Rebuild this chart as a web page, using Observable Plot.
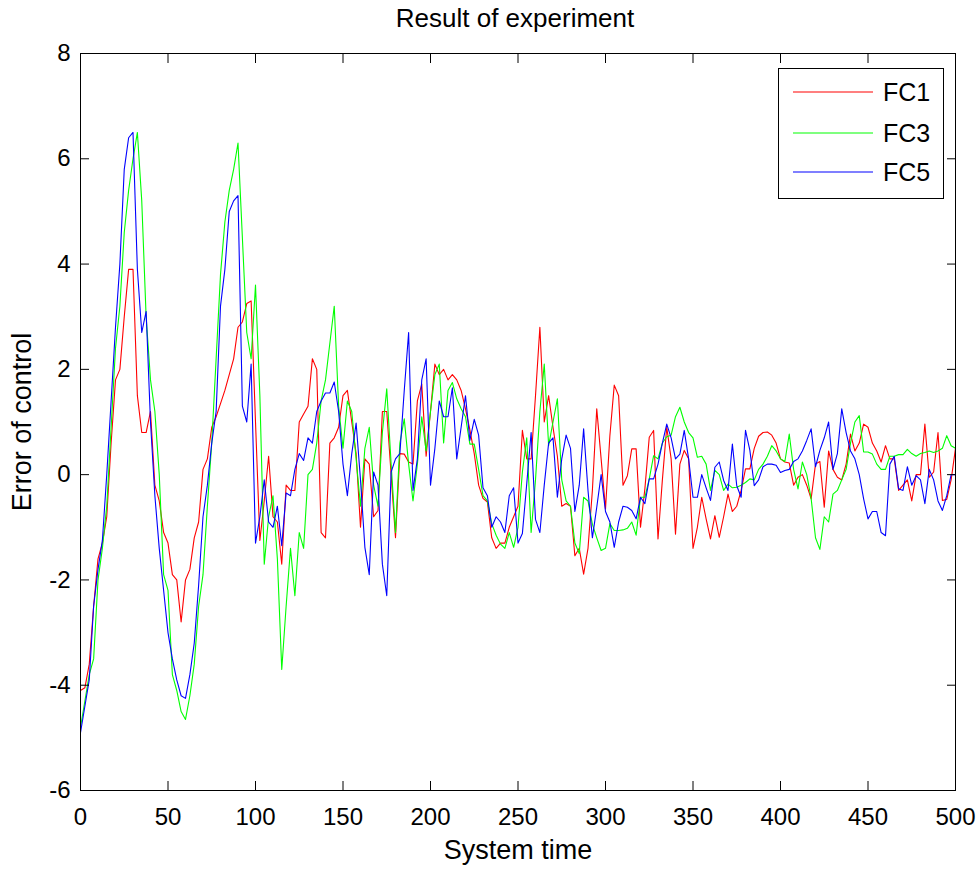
<!DOCTYPE html>
<html><head><meta charset="utf-8">
<script src="https://cdn.jsdelivr.net/npm/d3@7"></script>
<script src="https://cdn.jsdelivr.net/npm/@observablehq/plot@0.6"></script>
<style>
body{margin:0;background:#fff;font-family:"Liberation Sans",Arial,Helvetica,sans-serif;}
#wrap{position:relative;width:980px;height:870px;}
#title{height:40px;line-height:36px;text-align:center;font-size:26px;padding-left:50px;color:#000;}
#legend{position:absolute;left:778px;top:68px;}
</style></head>
<body><div id="wrap"><div id="title"></div><div id="chart"></div><div id="legend"></div></div>
<script>
const titleText = "Result of experiment";
const xLabel = "System time";
const yLabel = "Error of control";
const seriesNames = ["FC1", "FC3", "FC5"];
const seriesColors = ["#ff0000", "#00ff00", "#0000ff"];
const xTicks = [0, 50, 100, 150, 200, 250, 300, 350, 400, 450, 500];
const yTicks = [-6, -4, -2, 0, 2, 4, 6, 8];

const time = [
0,2.5,5,7.5,10,12.5,15,17.5,20,22.5,25,27.5,30,32.5,35,37.5,40,42.5,45,47.5,
50,52.5,55,57.5,60,62.5,65,67.5,70,72.5,75,77.5,80,82.5,85,87.5,90,92.5,95,97.5,
100,102.5,105,107.5,110,112.5,115,117.5,120,122.5,125,127.5,130,132.5,135,137.5,140,142.5,145,147.5,
150,152.5,155,157.5,160,162.5,165,167.5,170,172.5,175,177.5,180,182.5,185,187.5,190,192.5,195,197.5,
200,202.5,205,207.5,210,212.5,215,217.5,220,222.5,225,227.5,230,232.5,235,237.5,240,242.5,245,247.5,
250,252.5,255,257.5,260,262.5,265,267.5,270,272.5,275,277.5,280,282.5,285,287.5,290,292.5,295,297.5,
300,302.5,305,307.5,310,312.5,315,317.5,320,322.5,325,327.5,330,332.5,335,337.5,340,342.5,345,347.5,
350,352.5,355,357.5,360,362.5,365,367.5,370,372.5,375,377.5,380,382.5,385,387.5,390,392.5,395,397.5,
400,402.5,405,407.5,410,412.5,415,417.5,420,422.5,425,427.5,430,432.5,435,437.5,440,442.5,445,447.5,
450,452.5,455,457.5,460,462.5,465,467.5,470,472.5,475,477.5,480,482.5,485,487.5,490,492.5,495,497.5,
500];

const fc1 = [
-4.1,-4.05,-3.6,-2.5,-1.6,-1.3,-0.8,0.6,1.8,2.0,3.0,3.9,3.9,1.5,0.8,0.8,1.2,-0.2,-0.5,-1.1,-1.3,
-1.9,-2.0,-2.8,-2.0,-1.8,-1.2,-0.9,0.1,0.3,0.9,1.1,1.35,1.6,1.9,2.2,2.8,2.9,3.25,3.3,1.0,
-1.25,-0.5,0.35,-0.8,-0.9,-1.7,-0.2,-0.3,-0.3,1.0,1.15,1.3,2.2,2.0,-1.1,-1.2,0.6,0.7,0.9,1.5,
1.6,1.0,0.4,-1.0,0.3,0.2,-0.8,-0.68,1.2,1.2,0.0,-1.2,0.4,0.39,0.24,0.2,1.4,1.72,0.35,1.2,
2.1,1.9,2.0,1.8,1.9,1.8,1.6,1.25,0.85,0.4,-0.2,-0.45,-0.52,-1.2,-1.4,-1.3,-1.3,-1.0,-0.8,-0.6,
0.84,0.3,0.3,1.5,2.8,1.0,1.5,0.9,0.35,-0.6,-0.55,-0.6,-1.54,-1.4,-1.89,-1.4,-0.3,1.25,0.3,-0.65,
0.74,1.7,1.5,-0.2,-0.02,0.49,0.49,-1.0,-0.27,0.71,0.84,-1.22,-0.1,0.9,0.3,-1.13,0.2,0.46,0.3,-1.4,
-1.0,-0.43,-0.84,-1.22,-0.78,-1.19,-0.8,-0.37,-0.7,-0.6,-0.3,0.11,0.11,0.5,0.73,0.8,0.81,0.75,0.6,0.3,
0.24,0.22,-0.2,-0.05,0.0,-0.2,-0.46,0.2,0.25,-0.62,0.45,0.1,-0.05,-0.1,0.2,0.77,0.45,0.6,0.96,0.9,
0.6,0.45,0.24,0.55,0.3,0.3,-0.3,-0.2,-0.1,-0.5,0.0,0.0,0.96,-0.05,0.05,0.8,-0.49,-0.47,-0.1,0.5];

const fc3 = [
-4.8,-4.3,-3.8,-3.5,-2.0,-1.4,-0.6,0.9,2.4,3.2,4.6,5.4,6.0,6.5,5.2,3.0,1.8,1.2,0.0,-1.9,-2.2,
-3.8,-4.1,-4.5,-4.65,-4.2,-3.6,-2.5,-1.9,-0.6,0.6,2.2,3.8,4.8,5.4,5.8,6.3,4.5,2.7,2.2,3.6,
1.5,-1.7,-0.8,-0.4,-1.6,-3.7,-2.5,-1.4,-2.3,-1.1,-1.4,0.0,0.1,0.6,1.4,1.8,2.5,3.2,1.3,0.5,
1.4,1.2,0.3,-0.6,0.5,0.9,-0.2,-0.6,0.8,1.63,0.2,-1.1,0.6,1.06,0.2,-0.5,0.2,1.1,0.45,1.2,
1.9,2.1,0.6,1.6,1.75,1.44,1.25,1.1,0.58,0.58,0.1,-0.4,-0.5,-0.93,-1.15,-1.32,-1.4,-1.1,-1.38,-1.0,
0.05,0.7,-1.1,-0.1,1.2,2.1,0.55,1.0,1.44,-0.1,-0.5,-0.6,-1.3,-1.5,-0.43,-0.5,-0.94,-1.2,-1.44,-1.4,
-0.93,-1.06,-1.06,-1.05,-1.02,-0.9,-1.15,-0.43,-0.43,-0.08,0.36,0.3,0.6,0.72,0.75,1.1,1.28,1.0,0.8,0.7,
0.33,0.35,0.2,-0.3,0.08,0.0,-0.3,-0.18,-0.25,-0.24,-0.2,-0.15,-0.08,-0.1,0.1,0.2,0.35,0.55,0.45,0.3,
0.25,0.77,0.1,-0.27,0.24,0.0,-0.45,-1.2,-1.42,-0.8,-0.9,-0.37,-0.3,-0.1,0.1,0.6,1.0,1.12,0.43,0.43,
0.39,0.2,0.1,0.1,0.35,0.35,0.38,0.38,0.48,0.4,0.35,0.4,0.42,0.45,0.42,0.45,0.5,0.74,0.55,0.5];

const fc5 = [
-4.9,-4.4,-3.9,-2.5,-1.8,-1.25,0.0,1.4,2.8,4.0,5.8,6.4,6.5,3.9,2.7,3.1,1.0,-0.4,-1.4,-2.2,-3.0,
-3.5,-3.9,-4.2,-4.25,-3.8,-3.2,-2.1,-0.8,-0.2,0.6,1.2,3.2,3.9,5.0,5.2,5.3,1.3,1.0,2.1,-1.3,
-0.8,-0.1,-0.9,-1.0,-0.6,-1.35,-0.35,-0.4,0.1,0.4,0.27,0.7,0.6,1.2,1.4,1.55,1.55,1.76,1.2,0.2,
-0.4,0.4,0.98,-0.1,-1.38,-1.9,0.05,-0.2,-1.7,-2.3,0.05,0.3,0.4,1.6,2.7,-0.3,0.3,1.8,2.2,-0.2,
0.5,1.4,1.1,1.1,1.65,0.3,0.9,1.5,0.65,1.05,0.75,-0.25,-0.4,-1.0,-0.8,-0.9,-1.1,-0.4,-0.25,-1.3,
-1.12,-0.17,0.8,-0.85,-1.1,-0.2,0.6,0.7,-0.43,0.3,0.75,0.5,-0.7,-0.2,0.87,-0.3,-1.2,-0.62,0.0,-0.7,
-0.9,-1.38,-0.9,-0.6,-0.62,-0.68,-0.84,-0.43,-0.55,-0.08,-0.08,0.2,0.6,0.96,0.7,0.3,0.39,0.84,0.3,-0.43,
-0.43,0.0,-0.25,-0.49,0.14,0.24,-0.11,-0.3,0.58,-0.21,-0.43,0.84,0.46,-0.21,-0.1,0.15,0.2,0.2,0.18,0.04,
0.08,0.1,0.25,0.3,0.45,0.65,0.87,0.15,0.46,0.7,1.0,0.1,0.4,1.25,0.8,0.45,0.3,0.0,-0.46,-0.84,
-0.7,-0.7,-1.1,-1.16,0.2,0.35,-0.27,-0.3,0.15,-0.2,-0.02,-0.1,-0.55,0.1,-0.1,-0.5,-0.68,-0.4,0.0,0.0];

const seriesValues = [fc1, fc3, fc5];
const font = "'Liberation Sans', Arial, Helvetica, sans-serif";
const fmt = d => String(d);

document.getElementById("title").textContent = titleText;

const lineMarks = seriesValues.map((vals, k) =>
  Plot.line(vals, {x: (d, i) => time[i], y: d => d, stroke: seriesColors[k], strokeWidth: 1.1}));

const chart = Plot.plot({
  width: 980, height: 830,
  marginTop: 13, marginBottom: 80, marginLeft: 80, marginRight: 25,
  style: {fontFamily: font, fontSize: "24px", color: "#000", background: "#fff", overflow: "visible"},
  x: {domain: [0, 500]},
  y: {domain: [-6, 8]},
  marks: [
    ...lineMarks,
    Plot.frame({stroke: "#000", strokeWidth: 1}),
    Plot.axisX({ticks: xTicks, anchor: "bottom", tickSize: -9, tickPadding: 26, tickFormat: fmt, label: null, fontSize: 24, stroke: "#000"}),
    Plot.axisX({ticks: xTicks, anchor: "top", tickSize: -9, tickFormat: () => "", label: null, stroke: "#000"}),
    Plot.axisY({ticks: yTicks, anchor: "left", tickSize: -9, tickPadding: 19, tickFormat: fmt, label: null, fontSize: 24, stroke: "#000"}),
    Plot.axisY({ticks: yTicks, anchor: "right", tickSize: -9, tickFormat: () => "", label: null, stroke: "#000"}),
    Plot.text([xLabel], {frameAnchor: "bottom", dy: 60, fontSize: 27, fill: "#000", textAnchor: "middle", lineAnchor: "middle"}),
    Plot.text([yLabel], {frameAnchor: "left", dx: -58, rotate: -90, fontSize: 27, fill: "#000", textAnchor: "middle", lineAnchor: "middle"})
  ]
});
document.getElementById("chart").appendChild(chart);

// legend
const ns = "http://www.w3.org/2000/svg";
const lg = document.createElementNS(ns, "svg");
lg.setAttribute("width", 166); lg.setAttribute("height", 131);
lg.style.fontFamily = font;
const box = document.createElementNS(ns, "rect");
box.setAttribute("x", 0.5); box.setAttribute("y", 0.5); box.setAttribute("width", 165); box.setAttribute("height", 130);
box.setAttribute("fill", "#fff"); box.setAttribute("stroke", "#000");
lg.appendChild(box);
const rowY = [24, 65, 104];
seriesNames.forEach((name, k) => {
  const ln = document.createElementNS(ns, "line");
  ln.setAttribute("x1", 15); ln.setAttribute("x2", 95);
  ln.setAttribute("y1", rowY[k]); ln.setAttribute("y2", rowY[k]);
  ln.setAttribute("stroke", seriesColors[k]); ln.setAttribute("stroke-width", 1.1);
  lg.appendChild(ln);
  const tx = document.createElementNS(ns, "text");
  tx.setAttribute("x", 105); tx.setAttribute("y", rowY[k]);
  tx.setAttribute("dy", "0.35em"); tx.setAttribute("font-size", 25);
  tx.textContent = name;
  lg.appendChild(tx);
});
document.getElementById("legend").appendChild(lg);
</script></body></html>
